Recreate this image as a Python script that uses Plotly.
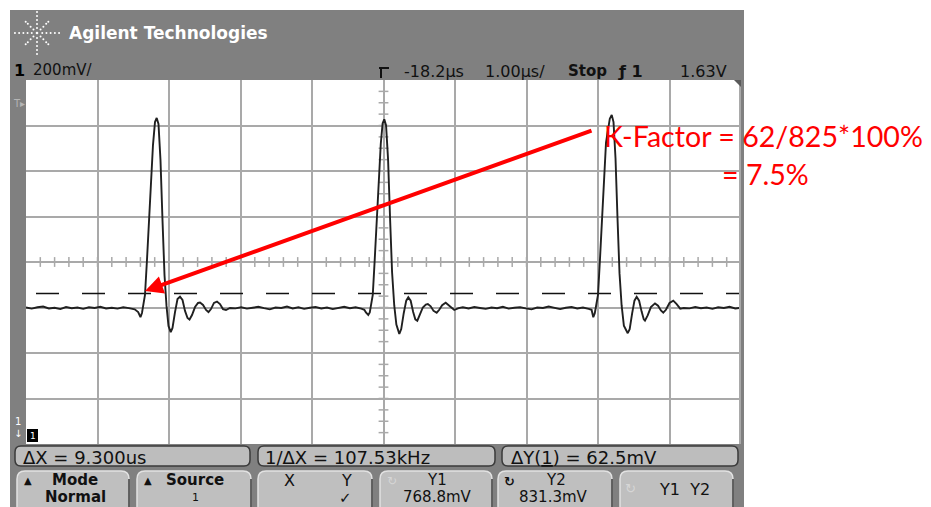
import math
import plotly.graph_objects as go

# ---------------- data ----------------
# time in microseconds, voltage in volts (channel 1, 200 mV/div, 1.00 us/div, delay -18.2 us)
base0_t = [-23.20, -23.12, -23.04, -22.96, -22.88, -22.80, -22.72, -22.64, -22.56, -22.48,
           -22.40, -22.32, -22.24, -22.16, -22.08, -22.00, -21.92, -21.84, -21.76, -21.68]
base0_v = [0.770, 0.765, 0.771, 0.774, 0.766, 0.769, 0.763, 0.772, 0.767, 0.770,
           0.764, 0.771, 0.768, 0.773, 0.766, 0.769, 0.765, 0.771, 0.767, 0.762]

pulse1_t = [-21.631, -21.599, -21.578, -21.557, -21.536, -21.508, -21.466, -21.424, -21.396, -21.372,
            -21.347, -21.319, -21.291, -21.263, -21.235, -21.207, -21.176, -21.151, -21.116, -21.081,
            -21.046, -21.011, -20.976, -20.941, -20.913, -20.878, -20.836, -20.794, -20.766, -20.724,
            -20.682, -20.648, -20.613, -20.571, -20.529, -20.487, -20.445, -20.403, -20.347]
pulse1_v = [0.750, 0.728, 0.746, 0.781, 0.825, 0.979, 1.243, 1.484, 1.585, 1.603,
            1.577, 1.418, 1.155, 0.913, 0.777, 0.689, 0.662, 0.680, 0.750, 0.807,
            0.818, 0.803, 0.755, 0.724, 0.717, 0.737, 0.772, 0.790, 0.792, 0.781,
            0.759, 0.750, 0.763, 0.790, 0.796, 0.785, 0.763, 0.759, 0.768]

base1_t = [-20.27, -20.19, -20.11, -20.03, -19.95, -19.87, -19.79, -19.71, -19.63, -19.55,
           -19.47, -19.39, -19.31, -19.23, -19.15, -19.07, -18.99, -18.91, -18.83, -18.75,
           -18.67, -18.59, -18.51]
base1_v = [0.766, 0.771, 0.765, 0.769, 0.773, 0.767, 0.762, 0.770, 0.768, 0.774,
           0.766, 0.771, 0.764, 0.769, 0.772, 0.766, 0.770, 0.763, 0.768, 0.773,
           0.767, 0.771, 0.765]

pulse2_t = [-18.468, -18.446, -18.413, -18.392, -18.371, -18.350, -18.322, -18.280, -18.238, -18.212,
            -18.189, -18.164, -18.136, -18.108, -18.080, -18.050, -18.020, -17.979, -17.952, -17.917,
            -17.882, -17.853, -17.820, -17.785, -17.755, -17.727, -17.692, -17.650, -17.608, -17.580,
            -17.540, -17.500, -17.456, -17.420, -17.380, -17.330, -17.280, -17.210, -17.150]
pulse2_v = [0.760, 0.748, 0.737, 0.748, 0.785, 0.825, 0.985, 1.250, 1.490, 1.580,
            1.597, 1.570, 1.420, 1.160, 0.925, 0.780, 0.695, 0.654, 0.675, 0.745,
            0.800, 0.815, 0.800, 0.750, 0.718, 0.712, 0.735, 0.770, 0.783, 0.785,
            0.775, 0.755, 0.747, 0.760, 0.780, 0.791, 0.778, 0.759, 0.767]

base2_t = [-17.09, -17.01, -16.93, -16.85, -16.77, -16.69, -16.61, -16.53, -16.45, -16.37,
           -16.29, -16.21, -16.13, -16.05, -15.97, -15.89, -15.81, -15.73, -15.65, -15.57,
           -15.49, -15.41, -15.33]
base2_v = [0.771, 0.766, 0.772, 0.768, 0.764, 0.770, 0.767, 0.773, 0.765, 0.769,
           0.771, 0.766, 0.762, 0.770, 0.768, 0.774, 0.767, 0.763, 0.769, 0.772,
           0.766, 0.770, 0.764]

pulse3_t = [-15.290, -15.266, -15.245, -15.224, -15.200, -15.172, -15.130, -15.088, -15.035, -15.008,
            -14.983, -14.955, -14.927, -14.899, -14.870, -14.838, -14.784, -14.757, -14.722, -14.690,
            -14.659, -14.625, -14.590, -14.560, -14.543, -14.505, -14.460, -14.403, -14.360, -14.320,
            -14.287, -14.250, -14.200, -14.147, -14.100, -14.050, -14.000]
pulse3_v = [0.760, 0.727, 0.745, 0.782, 0.825, 0.985, 1.250, 1.495, 1.600, 1.616,
            1.585, 1.425, 1.160, 0.920, 0.780, 0.690, 0.657, 0.675, 0.745, 0.800,
            0.817, 0.800, 0.752, 0.718, 0.712, 0.735, 0.772, 0.788, 0.778, 0.757,
            0.747, 0.760, 0.790, 0.800, 0.785, 0.765, 0.768]

base3_t = [-13.92, -13.84, -13.76, -13.68, -13.60, -13.52, -13.44, -13.36, -13.28, -13.20]
base3_v = [0.766, 0.772, 0.767, 0.770, 0.764, 0.771, 0.768, 0.773, 0.766, 0.769]

time_us = base0_t + pulse1_t + base1_t + pulse2_t + base2_t + pulse3_t + base3_t
volts = base0_v + pulse1_v + base1_v + pulse2_v + base2_v + pulse3_v + base3_v

# scope settings / readouts
t_center = -18.2      # us
t_per_div = 1.0       # us/div
v_per_div = 0.2       # V/div
v_center = 0.97       # V at screen centre
cursor_y1 = 0.7688
cursor_y2 = 0.8313

header_texts = ["-18.2µs", "1.00µs/", "Stop", "ƒ 1", "1.63V"]
readouts = ["ΔX = 9.300us", "1/ΔX = 107.53kHz", "ΔY(<u>1</u>) = 62.5mV"]
kfactor_line1 = "K-Factor = 62/825*100%"
kfactor_line2 = "= 7.5%"

# ---------------- layout helpers ----------------
W, H = 931, 507
def X(px): return px / W
def Y(py): return 1 - py / H

PL, PR, PT, PB = 26, 741, 80, 444   # plot area in pixels

x_range = [t_center - 5 * t_per_div, t_center + 5 * t_per_div]
y_range = [v_center - 4 * v_per_div, v_center + 4 * v_per_div]

GRID = "#a9a9a9"
fig = go.Figure()

# centre-axis minor ticks
hx = [x_range[0] + i * t_per_div / 5 for i in range(1, 50)]
fig.add_trace(go.Scatter(x=hx, y=[v_center] * len(hx), mode="markers",
                         marker=dict(symbol="line-ns", size=7, color=GRID, line=dict(color=GRID, width=1.5)),
                         hoverinfo="skip", showlegend=False))
vy = [y_range[0] + i * v_per_div / 4 for i in range(1, 32)]
fig.add_trace(go.Scatter(x=[t_center] * len(vy), y=vy, mode="markers",
                         marker=dict(symbol="line-ew", size=7, color=GRID, line=dict(color=GRID, width=1.5)),
                         hoverinfo="skip", showlegend=False))

# Y2 cursor (black dashed)
fig.add_trace(go.Scatter(x=[x_range[0] - 36 / 71.5, x_range[1]], y=[cursor_y2, cursor_y2], mode="lines",
                         line=dict(color="#111111", width=1.5, dash="23px,23px"),
                         hoverinfo="skip", showlegend=False))

# waveform
fig.add_trace(go.Scatter(x=time_us, y=volts, mode="lines",
                         line=dict(color="#202020", width=1.9),
                         hoverinfo="skip", showlegend=False))

shapes = []
# instrument panel
shapes.append(dict(type="rect", xref="paper", yref="paper", x0=X(10), x1=X(744), y0=Y(515), y1=Y(10),
                   fillcolor="#808080", line=dict(width=0), layer="below"))
shapes.append(dict(type="rect", xref="paper", yref="paper", x0=X(PL), x1=X(PR), y0=Y(PB), y1=Y(PT),
                   fillcolor="#ffffff", line=dict(width=0), layer="below"))
# plot border line on the right
shapes.append(dict(type="line", xref="paper", yref="paper", x0=X(PR - 1), x1=X(PR - 1), y0=Y(PB), y1=Y(PT),
                   line=dict(color=GRID, width=2)))
# top-right corner mark
shapes.append(dict(type="path", xref="paper", yref="paper",
                   path=f"M{X(734)},{Y(PT)} L{X(PR)},{Y(PT)} L{X(PR)},{Y(PT + 7)} Z",
                   fillcolor="#5a5a5a", line=dict(width=0)))
# trigger position marker
shapes.append(dict(type="line", xref="paper", yref="paper", x0=X(379), x1=X(389), y0=Y(68), y1=Y(68),
                   line=dict(color="#111", width=2)))
shapes.append(dict(type="line", xref="paper", yref="paper", x0=X(381), x1=X(381), y0=Y(68), y1=Y(78),
                   line=dict(color="#111", width=2)))

# logo dots
cx, cy = 37, 33
for k in range(8):
    ang = k * math.pi / 4
    lens = [5, 9, 13, 17, 21] if k % 2 == 0 else [5, 9, 13, 16]
    for d in lens:
        dx = d * math.cos(ang) * (1.05 if k % 4 == 0 else 1.0)
        dy = d * math.sin(ang)
        r = 1.0
        shapes.append(dict(type="circle", xref="paper", yref="paper",
                           x0=X(cx + dx - r), x1=X(cx + dx + r), y0=Y(cy + dy + r), y1=Y(cy + dy - r),
                           fillcolor="#ffffff", line=dict(width=0)))
shapes.append(dict(type="circle", xref="paper", yref="paper", x0=X(cx - 1.3), x1=X(cx + 1.3),
                   y0=Y(cy + 1.3), y1=Y(cy - 1.3), fillcolor="#ffffff", line=dict(width=0)))


def rr(x0, y0, x1, y1, r):
    return (f"M{X(x0 + r)},{Y(y0)} L{X(x1 - r)},{Y(y0)} Q{X(x1)},{Y(y0)} {X(x1)},{Y(y0 + r)} "
            f"L{X(x1)},{Y(y1 - r)} Q{X(x1)},{Y(y1)} {X(x1 - r)},{Y(y1)} L{X(x0 + r)},{Y(y1)} "
            f"Q{X(x0)},{Y(y1)} {X(x0)},{Y(y1 - r)} L{X(x0)},{Y(y0 + r)} Q{X(x0)},{Y(y0)} {X(x0 + r)},{Y(y0)} Z")

# readout boxes
for x0, x1 in [(15, 250), (258, 495), (502, 738)]:
    shapes.append(dict(type="path", xref="paper", yref="paper", path=rr(x0, 446, x1, 466, 6),
                       fillcolor="#bdbdbd", line=dict(color="#3a3a3a", width=1.5)))
# softkeys
for x0, x1 in [(17, 129), (137, 251), (258, 372), (380, 492), (498, 612), (620, 733)]:
    shapes.append(dict(type="path", xref="paper", yref="paper", path=rr(x0, 471, x1, 520, 8),
                       fillcolor="#bfbfbf", line=dict(color="#e2e2e2", width=1.5)))
    shapes.append(dict(type="line", xref="paper", yref="paper", x0=X(x1), x1=X(x1), y0=Y(520), y1=Y(479),
                       line=dict(color="#3a3a3a", width=1.5)))

# channel ground marker box
shapes.append(dict(type="rect", xref="paper", yref="paper", x0=X(27), x1=X(38), y0=Y(442), y1=Y(429),
                   fillcolor="#000000", line=dict(width=0)))

annotations = []
def txt(x, y, s, size=14, color="#111111", xanchor="left", bold=False, family="DejaVu Sans"):
    if bold:
        s = f"<b>{s}</b>"
    annotations.append(dict(x=X(x), y=Y(y), xref="paper", yref="paper", text=s, showarrow=False,
                            xanchor=xanchor, yanchor="middle", borderpad=0,
                            font=dict(size=size, color=color, family=family)))

txt(68, 33, "Agilent Technologies", 17, "#ffffff", bold=True)
txt(13, 70, "1", 16, "#000000", bold=True)
txt(32, 70, "200mV/", 15, "#111111")
txt(403, 71, header_texts[0], 16)
txt(484, 71, header_texts[1], 16)
txt(567, 71, header_texts[2], 15, bold=True)
txt(617, 71, header_texts[3], 16, bold=True)
txt(679, 71, header_texts[4], 16)
txt(12, 104, "T▸", 10, "#b5b5b5")
txt(18, 421, "1", 10, "#ffffff", xanchor="center")
txt(18, 433, "↓", 10, "#ffffff", xanchor="center")
txt(32.5, 436, "1", 9, "#ffffff", xanchor="center")

txt(22, 457, readouts[0], 18)
txt(264, 457, readouts[1], 18)
txt(510, 457, readouts[2], 18)

txt(23, 480, "▲", 10)
txt(75, 480, "Mode", 15, xanchor="center", bold=True)
txt(75, 497, "Normal", 15, xanchor="center", bold=True)
txt(143, 480, "▲", 10)
txt(195, 480, "Source", 15, xanchor="center", bold=True)
txt(195, 497, "1", 11, xanchor="center")
txt(289, 480, "X", 16, xanchor="center")
txt(346, 480, "Y", 16, xanchor="center")
txt(345, 498, "✓", 15, xanchor="center")
txt(392, 481, "↻", 12, "#d6d6d6", xanchor="center")
txt(437, 480, "Y1", 15, xanchor="center")
txt(437, 497, "768.8mV", 15, xanchor="center")
txt(509, 481, "↻", 13, "#111111", xanchor="center", bold=True)
txt(556, 480, "Y2", 15, xanchor="center")
txt(553, 497, "831.3mV", 15, xanchor="center")
txt(630, 488, "↻", 13, "#d6d6d6", xanchor="center")
txt(684, 489, "Y1  Y2", 16, xanchor="center")

# red K-factor annotation
txt(603, 136, kfactor_line1, 28.6, "#ff0000", family="Lato")
txt(721, 174, kfactor_line2, 28.6, "#ff0000", family="Lato")

# red arrow pointing at the Y2 cursor crossing
annotations.append(dict(x=t_center + (145 - 383.5) / 71.5, y=v_center + (262 - 291) / 45.5 * v_per_div,
                        xref="x", yref="y", text="", showarrow=True, ax=448, ay=-161,
                        arrowhead=2, arrowsize=0.9, arrowwidth=4, arrowcolor="#ff0000", standoff=0))

fig.update_layout(
    width=W, height=H, margin=dict(l=0, r=0, t=0, b=0),
    paper_bgcolor="#ffffff", plot_bgcolor="rgba(0,0,0,0)",
    showlegend=False, shapes=shapes, annotations=annotations,
    xaxis=dict(domain=[X(PL), X(PR)], range=x_range, tick0=x_range[0], dtick=t_per_div,
               showgrid=True, gridcolor=GRID, gridwidth=2, zeroline=False,
               showticklabels=False, ticks="", showline=False, fixedrange=True),
    yaxis=dict(domain=[Y(PB), Y(PT)], range=y_range, tick0=y_range[0], dtick=v_per_div,
               showgrid=True, gridcolor=GRID, gridwidth=2, zeroline=False,
               showticklabels=False, ticks="", showline=False, fixedrange=True),
)

fig.write_html("out.html", config=dict(displayModeBar=False))
